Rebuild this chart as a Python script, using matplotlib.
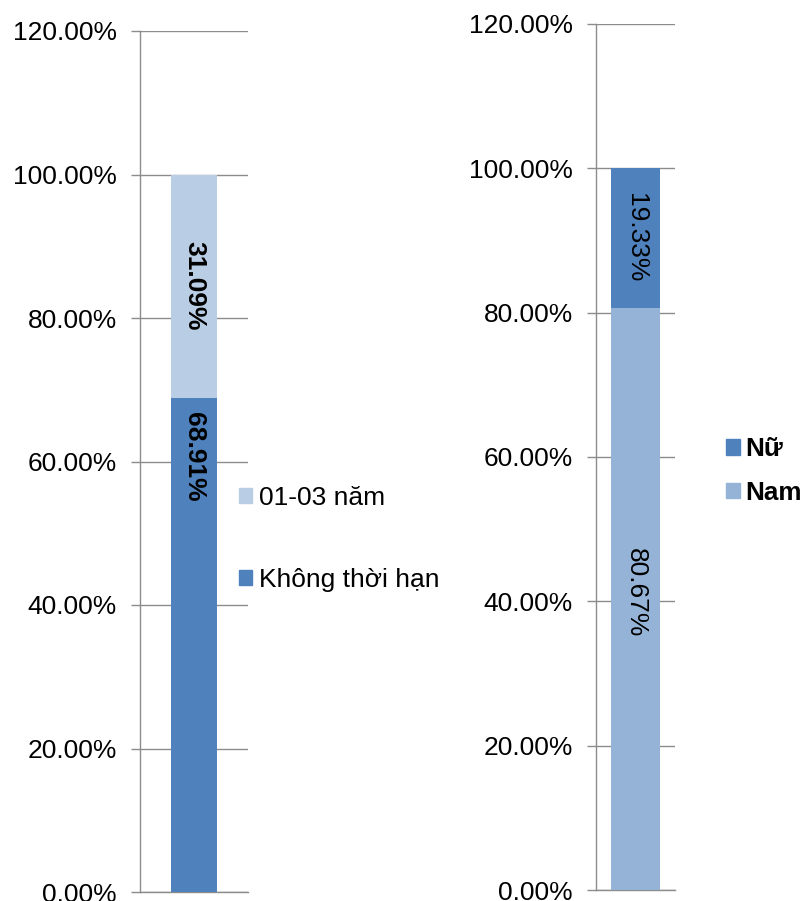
import matplotlib
matplotlib.use("Agg")
import matplotlib.pyplot as plt
from matplotlib.patches import Patch
from matplotlib.ticker import FuncFormatter

plt.rcParams['font.family'] = ['Liberation Sans', 'DejaVu Sans']

# ---- data ----
left_series = ["Không thời hạn", "01-03 năm"]
left_values = [0.6891, 0.3109]
right_series = ["Nam", "Nữ"]
right_values = [0.8067, 0.1933]
y_ticks = [0.0, 0.2, 0.4, 0.6, 0.8, 1.0, 1.2]

DARK = "#4F81BD"
LIGHT_L = "#B9CDE5"
LIGHT_R = "#95B3D7"
GRID = "#8C8C8C"

W, H = 805, 901
fig = plt.figure(figsize=(W / 100, H / 100), dpi=100)

def fx(px):
    return px / W

def fy(py):
    return 1 - py / H

axL = fig.add_axes([fx(140), fy(892), fx(248) - fx(140), fy(31) - fy(892)])
axR = fig.add_axes([fx(596), fy(890), fx(675) - fx(596), fy(24) - fy(890)])

def style(ax):
    ax.set_ylim(0, 1.2)
    ax.set_xlim(-0.5, 0.5)
    ax.set_yticks(y_ticks)
    ax.yaxis.set_major_formatter(FuncFormatter(lambda v, p: f"{v*100:.2f}%"))
    ax.set_xticks([])
    for s in ["top", "right"]:
        ax.spines[s].set_visible(False)
    for s in ["left", "bottom"]:
        ax.spines[s].set_color(GRID)
        ax.spines[s].set_linewidth(1.0)
    ax.tick_params(axis="y", length=6.5, width=1.0, color=GRID, pad=10,
                   labelsize=19, labelcolor="black")
    ax.grid(axis="y", color=GRID, linewidth=1.0)
    ax.set_axisbelow(True)

style(axL)
style(axR)

# left stacked bar
colorsL = [DARK, LIGHT_L]
bottom = 0
for name, v, c in zip(left_series, left_values, colorsL):
    axL.bar(0, v, width=0.42, bottom=bottom, color=c, label=name, zorder=3)
    bottom += v
# label positions (fraction of segment from its bottom)
label_pos_L = [0.88, 0.5]
bottom = 0
for v, fpos in zip(left_values, label_pos_L):
    axL.text(0, bottom + v * fpos, f"{v*100:.2f}%", rotation=270,
             ha="center", va="center", fontsize=19, fontweight="bold",
             color="black", zorder=4)
    bottom += v

# right stacked bar
colorsR = [LIGHT_R, DARK]
bottom = 0
for name, v, c in zip(right_series, right_values, colorsR):
    axR.bar(0, v, width=0.63, bottom=bottom, color=c, label=name, zorder=3)
    bottom += v
label_pos_R = [0.51, 0.5]
bottom = 0
for v, fpos in zip(right_values, label_pos_R):
    axR.text(0, bottom + v * fpos, f"{v*100:.2f}%", rotation=270,
             ha="center", va="center", fontsize=19, color="black", zorder=4)
    bottom += v

# legends
hL = [Patch(color=c) for c in colorsL][::-1]
fig.legend(hL, left_series[::-1], loc="center left",
           bbox_to_anchor=(fx(239), fy(539)), frameon=False,
           borderpad=0, borderaxespad=0, handlelength=0.5, handleheight=0.5,
           handletextpad=0.25, labelspacing=2.2, fontsize=19)

hR = [Patch(color=c) for c in colorsR][::-1]
fig.legend(hR, right_series[::-1], loc="center left",
           bbox_to_anchor=(fx(726), fy(471)), frameon=False,
           borderpad=0, borderaxespad=0, handlelength=0.55, handleheight=0.55,
           handletextpad=0.2, labelspacing=0.74,
           prop={"size": 18.8, "weight": "bold"})

fig.savefig("out.png", dpi=100)
